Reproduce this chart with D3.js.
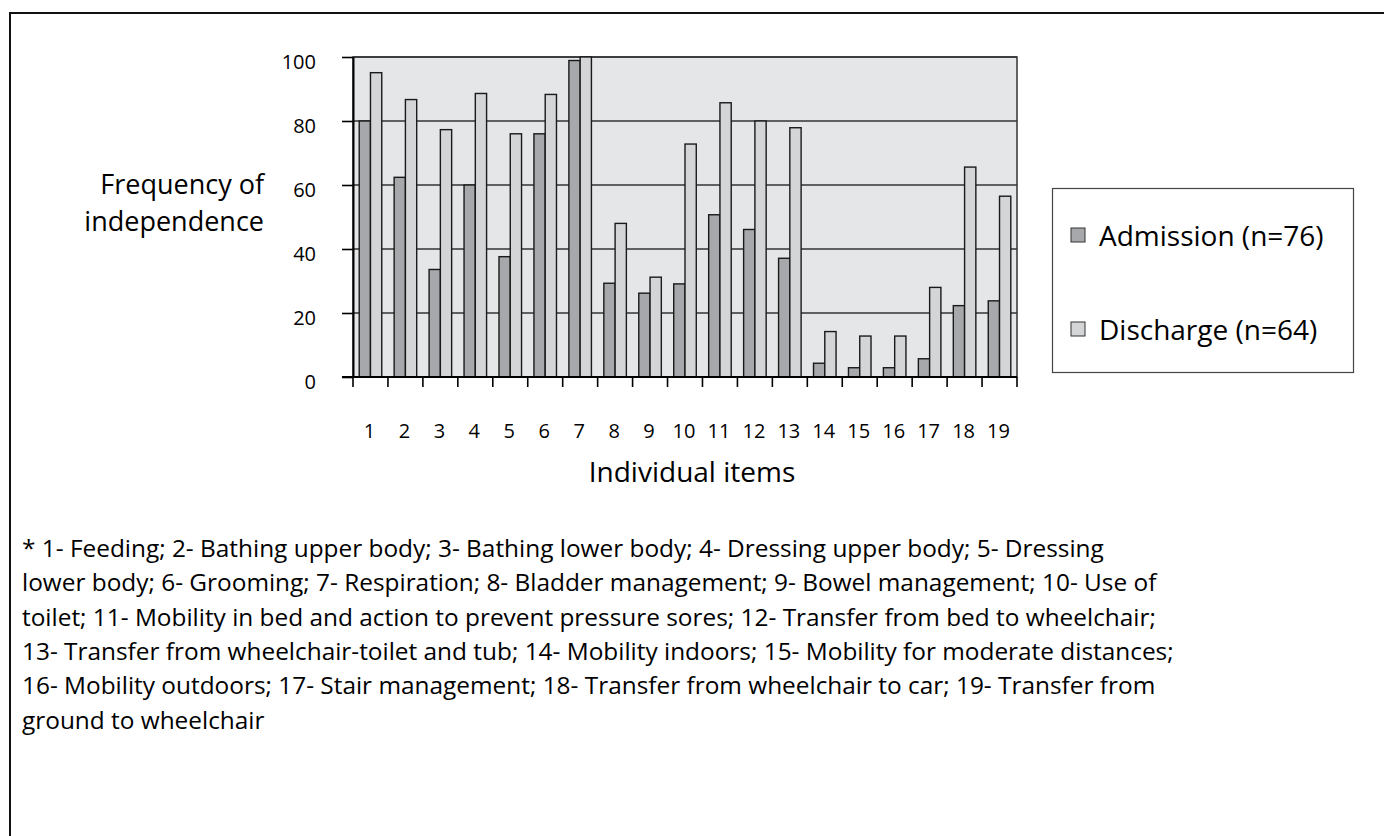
<!DOCTYPE html>
<html>
<head>
<meta charset="utf-8">
<script src="https://cdn.jsdelivr.net/npm/d3@7"></script>
<style>
  body { margin: 0; background: #fff; }
  svg text { font-family: "Open Sans", "Noto Sans", sans-serif; fill: #000; }
</style>
</head>
<body>
<div id="chart"></div>
<script>
// data
var items = ["1","2","3","4","5","6","7","8","9","10","11","12","13","14","15","16","17","18","19"];
var admission = [80, 62.4, 33.6, 60, 37.6, 76, 98.9, 29.3, 26.2, 29.1, 50.7, 46.1, 37.1, 4.3, 2.9, 2.9, 5.7, 22.3, 23.8];
var discharge = [95.1, 86.7, 77.3, 88.6, 76, 88.3, 100, 48, 31.2, 72.8, 85.7, 80, 77.9, 14.2, 12.8, 12.8, 28, 65.6, 56.5];
var seriesNames = ["Admission (n=76)", "Discharge (n=64)"];
var yTicks = [0, 20, 40, 60, 80, 100];
var footnote = [
  "* 1- Feeding; 2- Bathing upper body; 3- Bathing lower body; 4- Dressing upper body; 5- Dressing",
  "lower body; 6- Grooming; 7- Respiration; 8- Bladder management; 9- Bowel management; 10- Use of",
  "toilet; 11- Mobility in bed and action to prevent pressure sores; 12- Transfer from bed to wheelchair;",
  "13- Transfer from wheelchair-toilet and tub; 14- Mobility indoors; 15- Mobility for moderate distances;",
  "16- Mobility outdoors; 17- Stair management; 18- Transfer from wheelchair to car; 19- Transfer from",
  "ground to wheelchair"
];

var colors = ["#a7a8ab", "#d4d5d7"];

var W = 1384, H = 836;
var plot = {left: 353, right: 1017, top: 57, bottom: 377};

var svg = d3.select("#chart").append("svg")
  .attr("width", W)
  .attr("height", H);

// outer frame (only left and top edges are visible in the figure)
svg.append("path")
  .attr("d", "M10,836 V13 H1384")
  .attr("fill", "none")
  .attr("stroke", "#111")
  .attr("stroke-width", 2);

var x = d3.scaleBand()
  .domain(items)
  .range([plot.left, plot.right])
  .padding(0);

var xSub = d3.scaleBand()
  .domain([0, 1])
  .range([0, x.bandwidth()])
  .paddingInner(0)
  .paddingOuter(0.55);

var y = d3.scaleLinear()
  .domain([0, 100])
  .range([plot.bottom, plot.top]);

// plot background
svg.append("rect")
  .attr("x", plot.left)
  .attr("y", plot.top)
  .attr("width", plot.right - plot.left)
  .attr("height", plot.bottom - plot.top)
  .attr("fill", "#e5e6e8")
  .attr("stroke", "#333")
  .attr("stroke-width", 1.5);

// gridlines
svg.append("g")
  .selectAll("line")
  .data(yTicks.filter(function(d) { return d > 0; }))
  .enter()
  .append("line")
    .attr("x1", plot.left)
    .attr("x2", plot.right)
    .attr("y1", function(d) { return y(d); })
    .attr("y2", function(d) { return y(d); })
    .attr("stroke", "#333")
    .attr("stroke-width", 1.6);

// bars
var groups = svg.append("g")
  .selectAll("g")
  .data(items)
  .enter()
  .append("g")
    .attr("transform", function(d) { return "translate(" + x(d) + ",0)"; });

groups.selectAll("rect")
  .data(function(d, i) { return [admission[i], discharge[i]]; })
  .enter()
  .append("rect")
    .attr("x", function(d, j) { return xSub(j); })
    .attr("width", xSub.bandwidth())
    .attr("y", function(d) { return y(d); })
    .attr("height", function(d) { return y(0) - y(d); })
    .attr("fill", function(d, j) { return colors[j]; })
    .attr("stroke", "#1a1a1a")
    .attr("stroke-width", 1.4);

// y axis
var yAxis = svg.append("g")
  .attr("transform", "translate(" + plot.left + ",0)")
  .call(d3.axisLeft(y).tickValues(yTicks).tickSize(11).tickPadding(26).tickSizeOuter(0));
yAxis.select(".domain").attr("stroke", "#000").attr("stroke-width", 2);
yAxis.selectAll(".tick line").attr("stroke", "#000").attr("stroke-width", 1.6);
yAxis.selectAll(".tick text")
  .attr("dy", "0.55em")
  .style("font-size", "20px")
  .style("font-family", "'Open Sans', sans-serif");

// x axis: ticks on category boundaries, labels centred
var bounds = items.map(function(d) { return x(d); }).concat([plot.right]);
svg.append("g")
  .selectAll("line")
  .data(bounds)
  .enter()
  .append("line")
    .attr("x1", function(d) { return d; })
    .attr("x2", function(d) { return d; })
    .attr("y1", plot.bottom)
    .attr("y2", plot.bottom + 10)
    .attr("stroke", "#000")
    .attr("stroke-width", 1.6);

svg.append("line")
  .attr("x1", plot.left - 11)
  .attr("x2", plot.right)
  .attr("y1", plot.bottom)
  .attr("y2", plot.bottom)
  .attr("stroke", "#000")
  .attr("stroke-width", 2);

svg.append("g")
  .selectAll("text")
  .data(items)
  .enter()
  .append("text")
    .attr("x", function(d) { return x(d) + x.bandwidth() / 2 - 1; })
    .attr("y", 438)
    .attr("text-anchor", "middle")
    .style("font-size", "20px")
    .text(function(d) { return d; });

// axis titles
svg.append("text")
  .attr("x", 264)
  .attr("y", 194)
  .attr("text-anchor", "end")
  .style("font-size", "27px")
  .text("Frequency of");
svg.append("text")
  .attr("x", 264)
  .attr("y", 231)
  .attr("text-anchor", "end")
  .style("font-size", "27px")
  .text("independence");

svg.append("text")
  .attr("x", 692)
  .attr("y", 482)
  .attr("text-anchor", "middle")
  .style("font-size", "28px")
  .text("Individual items");

// legend
var legend = svg.append("g");
legend.append("rect")
  .attr("x", 1052.5)
  .attr("y", 188.5)
  .attr("width", 301)
  .attr("height", 184)
  .attr("fill", "#fff")
  .attr("stroke", "#444")
  .attr("stroke-width", 1.2);

var legendY = [246, 340];
var entries = legend.selectAll("g.item")
  .data(seriesNames)
  .enter()
  .append("g")
    .attr("class", "item")
    .attr("transform", function(d, i) { return "translate(1071," + legendY[i] + ")"; });

entries.append("rect")
  .attr("x", 0)
  .attr("y", -18)
  .attr("width", 14)
  .attr("height", 14)
  .attr("fill", function(d, i) { return colors[i]; })
  .attr("stroke", "#333")
  .attr("stroke-width", 1);

entries.append("text")
  .attr("x", 28)
  .attr("y", 0)
  .style("font-size", "28px")
  .text(function(d) { return d; });

// footnote
svg.append("g")
  .selectAll("text")
  .data(footnote)
  .enter()
  .append("text")
    .attr("x", 22)
    .attr("y", function(d, i) { return 557 + i * 34.3; })
    .style("font-size", "24.4px")
    .text(function(d) { return d; });
</script>
</body>
</html>
